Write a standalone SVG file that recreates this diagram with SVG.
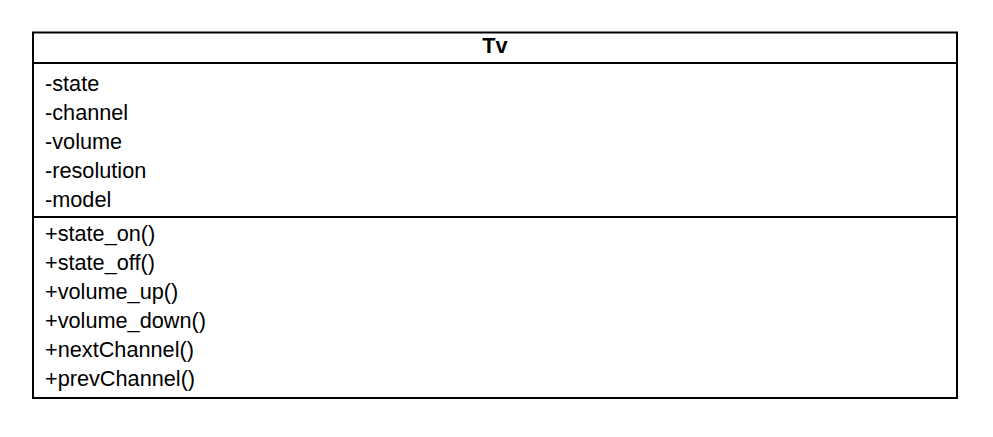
<svg xmlns="http://www.w3.org/2000/svg" width="993" height="437" viewBox="0 0 993 437">
<style>
.box{fill:#fff;stroke:#000;stroke-width:2}
.ln{stroke:#000;stroke-width:2}
text{font-family:"Liberation Sans",Arial,sans-serif;font-size:21.7px;fill:#000}
.t{font-weight:bold;text-anchor:middle}
</style>
<rect width="993" height="437" fill="#fff"/>
<g id="Tv">
<rect class="box" x="33" y="32.5" width="924" height="365.5"/>
<line class="ln" x1="33" y1="63" x2="957" y2="63"/>
<line class="ln" x1="33" y1="217" x2="957" y2="217"/>
<text class="t" x="495" y="53">Tv</text>
<text x="45" y="91">-state</text>
<text x="45" y="120">-channel</text>
<text x="45" y="149">-volume</text>
<text x="45" y="178">-resolution</text>
<text x="45" y="207">-model</text>
<text x="45" y="241">+state_on()</text>
<text x="45" y="270">+state_off()</text>
<text x="45" y="299">+volume_up()</text>
<text x="45" y="328">+volume_down()</text>
<text x="45" y="357">+nextChannel()</text>
<text x="45" y="386">+prevChannel()</text>
</g>
<g id="connectors"/>
</svg>
